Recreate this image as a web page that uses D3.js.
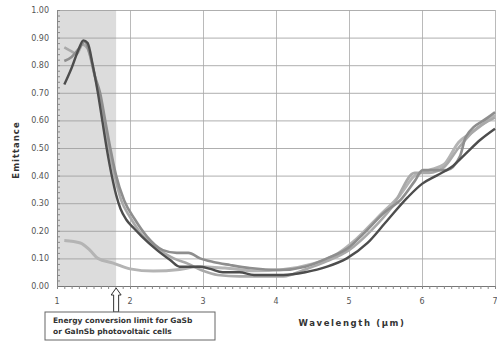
<!DOCTYPE html>
<html>
<head>
<meta charset="utf-8">
<script src="https://cdn.jsdelivr.net/npm/d3@7"></script>
<style>
  body { margin: 0; background: #fff; }
  svg text { font-family: "DejaVu Sans", Verdana, sans-serif; }
</style>
</head>
<body>
<svg id="chart" width="497" height="345"></svg>
<script>
// wavelength / emittance readings, one array pair per sample curve
let dark_w = [1.10,1.20,1.30,1.36,1.42,1.49,1.56,1.62,1.68,1.75,1.81,1.87,1.95,2.05,2.16,2.37,2.55,2.68,2.96,3.10,3.27,3.50,3.70,4.10,4.40,4.70,4.97,5.25,5.50,5.80,6.00,6.20,6.40,6.60,6.80,7.00];
let dark_e = [0.73,0.79,0.86,0.89,0.88,0.80,0.70,0.60,0.50,0.40,0.33,0.28,0.24,0.21,0.18,0.13,0.094,0.07,0.07,0.062,0.05,0.05,0.04,0.04,0.05,0.07,0.10,0.155,0.23,0.32,0.37,0.40,0.43,0.48,0.53,0.57];

let mid_w = [1.10,1.20,1.30,1.38,1.45,1.52,1.59,1.66,1.73,1.81,1.92,2.07,2.23,2.45,2.64,2.80,2.96,3.14,3.37,3.64,4.05,4.40,4.70,5.00,5.20,5.50,5.70,5.90,6.01,6.34,6.52,6.60,6.90,7.00];
let mid_e = [0.815,0.83,0.86,0.885,0.84,0.76,0.70,0.60,0.50,0.40,0.31,0.24,0.18,0.13,0.12,0.12,0.10,0.087,0.076,0.065,0.058,0.07,0.10,0.14,0.19,0.27,0.31,0.38,0.42,0.42,0.47,0.54,0.61,0.63];

let light_w = [1.10,1.20,1.27,1.35,1.42,1.50,1.57,1.64,1.71,1.79,1.88,2.00,2.15,2.35,2.60,2.80,3.00,3.20,3.50,4.10,4.40,4.70,5.00,5.30,5.60,5.90,6.10,6.30,6.50,6.70,7.00];
let light_e = [0.865,0.85,0.84,0.875,0.86,0.78,0.70,0.60,0.50,0.40,0.31,0.25,0.19,0.14,0.10,0.08,0.055,0.04,0.035,0.035,0.06,0.09,0.13,0.20,0.29,0.41,0.41,0.43,0.50,0.56,0.61];

let low_w = [1.10,1.32,1.45,1.56,1.77,2.00,2.32,2.68,2.92,3.30,3.70,4.10,4.50,4.80,5.10,5.40,5.70,5.90,6.10,6.30,6.50,6.70,7.00];
let low_e = [0.165,0.156,0.13,0.10,0.083,0.062,0.054,0.06,0.07,0.065,0.055,0.06,0.08,0.11,0.17,0.25,0.33,0.40,0.42,0.44,0.52,0.56,0.62];

let x_ticks = [1,2,3,4,5,6,7];
let y_ticks = [0,0.1,0.2,0.3,0.4,0.5,0.6,0.7,0.8,0.9,1.0];
let limit_w = 1.81;

let chart = d3.select("#chart");
let m_left = 57, m_right = 495, m_top = 10, m_bottom = 286;

let x = d3.scaleLinear().domain([1,7]).range([m_left,m_right]);
let y = d3.scaleLinear().domain([0,1]).range([m_bottom,m_top]);

// shaded region below the GaSb limit
chart.append("rect")
    .attr("x", x(1)).attr("y", y(1))
    .attr("width", x(limit_w) - x(1))
    .attr("height", y(0) - y(1))
    .attr("fill", "#dcdcdc");

// horizontal grid
chart.append("g")
    .attr("transform", "translate(" + m_left + ",0)")
    .call(d3.axisLeft(y).tickValues(y_ticks).tickSize(-(m_right-m_left)).tickFormat(""))
    .call(g => g.select(".domain").remove())
    .selectAll("line").attr("stroke", "#9a9a9a").attr("stroke-width", 0.8);

// vertical grid
chart.append("g")
    .attr("transform", "translate(0," + m_bottom + ")")
    .call(d3.axisBottom(x).tickValues([2,3,4,5,6,7]).tickSize(-(m_bottom-m_top)).tickFormat(""))
    .call(g => g.select(".domain").remove())
    .selectAll("line").attr("stroke", "#a8a8a8").attr("stroke-width", 0.8);

// minor ticks
chart.append("g")
    .attr("transform", "translate(" + m_left + ",0)")
    .call(d3.axisRight(y).tickValues(d3.range(0,1.001,0.02)).tickSize(3).tickFormat(""))
    .call(g => g.select(".domain").attr("stroke", "#888"))
    .selectAll("line").attr("stroke", "#888");

chart.append("g")
    .attr("transform", "translate(0," + m_bottom + ")")
    .call(d3.axisBottom(x).tickValues(d3.range(1,7.001,0.1)).tickSize(3).tickFormat(""))
    .call(g => g.select(".domain").attr("stroke", "#777"))
    .selectAll("line").attr("stroke", "#888");

// tick labels
chart.append("g").selectAll("text")
    .data(y_ticks).enter()
    .append("text")
        .attr("x", 49).attr("y", d => y(d) + 3)
        .attr("text-anchor", "end")
        .attr("font-size", 8).attr("fill", "#555")
        .text(d => d.toFixed(2));

chart.append("g").selectAll("text")
    .data(x_ticks).enter()
    .append("text")
        .attr("x", d => x(d)).attr("y", 304)
        .attr("text-anchor", "middle")
        .attr("font-size", 8).attr("fill", "#555")
        .text(d => d);

// curves
let line = d3.line().x(d => x(d[0])).y(d => y(d[1])).curve(d3.curveMonotoneX);
let series = [
    {w: low_w, e: low_e, c: "#b4b4b4", sw: 3},
    {w: light_w, e: light_e, c: "#a9a9a9", sw: 2.6},
    {w: mid_w, e: mid_e, c: "#8e8e8e", sw: 2.6},
    {w: dark_w, e: dark_e, c: "#4d4d4d", sw: 2.4}
];
series.forEach(s => {
    chart.append("path")
        .datum(d3.zip(s.w, s.e))
        .attr("fill", "none")
        .attr("stroke", s.c)
        .attr("stroke-width", s.sw)
        .attr("stroke-linejoin", "round")
        .attr("d", line);
});

// axis titles
chart.append("text")
    .attr("transform", "translate(19,150) rotate(-90)")
    .attr("text-anchor", "middle")
    .attr("font-size", 8.5).attr("font-weight", "bold")
    .attr("letter-spacing", 1).attr("fill", "#333")
    .text("Emittance");

chart.append("text")
    .attr("x", 352).attr("y", 326)
    .attr("text-anchor", "middle")
    .attr("font-size", 8.5).attr("font-weight", "bold")
    .attr("letter-spacing", 1.6).attr("fill", "#333")
    .text("Wavelength (\u03bcm)");

// hollow arrow pointing at the limit
let ax = x(limit_w);
chart.append("path")
    .attr("d", "M" + ax + ",288 l5,7 l-2.5,0 l0,17 l-5,0 l0,-17 l-2.5,0 z")
    .attr("fill", "#fff")
    .attr("stroke", "#333")
    .attr("stroke-width", 1);

// note box
chart.append("rect")
    .attr("x", 45).attr("y", 312)
    .attr("width", 170).attr("height", 28)
    .attr("fill", "#fff").attr("stroke", "#666").attr("stroke-width", 1);

chart.append("text")
    .attr("x", 53).attr("y", 323)
    .attr("font-size", 7.5).attr("font-weight", "bold").attr("fill", "#333")
    .text("Energy conversion limit for GaSb");
chart.append("text")
    .attr("x", 53).attr("y", 334)
    .attr("font-size", 7.5).attr("font-weight", "bold").attr("fill", "#333")
    .text("or GaInSb photovoltaic cells");
</script>
</body>
</html>
